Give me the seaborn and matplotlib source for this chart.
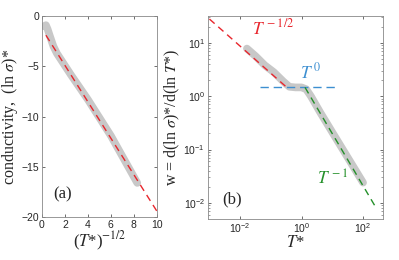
import matplotlib
matplotlib.use("Agg")
import matplotlib.pyplot as plt
import matplotlib.ticker as mticker
import numpy as np
import seaborn as sns

# panel (a): ln(sigma)* versus (T*)^-1/2
a_x = [0.2, 0.35, 0.5, 0.7, 1.0, 1.3, 1.7, 2.5, 4.0, 6.0, 8.3]
a_y = [-1.0, -0.9, -1.3, -2.0, -3.0, -3.7, -4.4, -5.8, -8.3, -11.9, -16.6]
a_fit_x = [0.35, 10.0]
a_fit_y = [-1.9, -19.4]

# panel (b): w versus T*
b_T = [0.0166, 0.032, 0.063, 0.126, 0.25, 0.4, 0.63, 1.0, 1.41, 2.0, 4.0, 10.0, 31.6, 100.0]
b_w = [7.8, 5.6, 3.8, 2.8, 1.9, 1.5, 1.46, 1.46, 1.35, 1.0, 0.5, 0.21, 0.071, 0.024]
fit_half_T = [0.001, 0.33]
fit_half_w = [27.9, 1.46]
fit_zero_T = [0.045, 17.0]
fit_zero_w = [1.46, 1.46]
fit_one_T = [1.29, 240.0]
fit_one_w = [1.46, 0.0089]

sns.set_style("ticks")
plt.rcParams["font.family"] = ["Liberation Sans", "DejaVu Sans"]
plt.rcParams["mathtext.fontset"] = "stix"

grey = "#c8c8c8"
red = "#e8262d"
blue = "#3d8fd1"
green = "#24902a"
serif = "Liberation Serif"

fig = plt.figure(figsize=(3.99, 2.6), dpi=100)
ax1 = fig.add_axes([0.105, 0.165, 0.288, 0.773])
ax2 = fig.add_axes([0.521, 0.158, 0.439, 0.780])

sns.lineplot(x=a_x, y=a_y, ax=ax1, color=grey, lw=5.5, solid_capstyle="round")
sns.lineplot(x=a_fit_x, y=a_fit_y, ax=ax1, color=red, lw=1.0, dashes=(5, 3.5))
ax1.set_xlim(0, 10)
ax1.set_ylim(-20, 0)
ax1.set_xticks([0, 2, 4, 6, 8, 10])
ax1.set_yticks([0, -5, -10, -15, -20])
ax1.set_xlabel(r"($T$*)$^{-1/2}$", fontfamily=serif, fontsize=12, labelpad=0)
ax1.set_ylabel(r"conductivity,  (ln $\sigma$)*", fontfamily=serif, fontsize=11.5, labelpad=1)
ax1.text(0.95, -18.1, "(a)", fontfamily=serif, fontsize=12)

sns.lineplot(x=b_T, y=b_w, ax=ax2, color=grey, lw=5.5, solid_capstyle="round")
sns.lineplot(x=fit_half_T, y=fit_half_w, ax=ax2, color=red, lw=1.0, dashes=(5, 3.5))
sns.lineplot(x=fit_zero_T, y=fit_zero_w, ax=ax2, color=blue, lw=1.0, dashes=(6, 3.5))
sns.lineplot(x=fit_one_T, y=fit_one_w, ax=ax2, color=green, lw=1.0, dashes=(5, 3.5))
ax2.set_xscale("log")
ax2.set_yscale("log")
ax2.set_xlim(10 ** -3.05, 10 ** 2.65)
ax2.set_ylim(10 ** -2.3, 10 ** 1.5)
ax2.set_xticks([1e-2, 1, 1e2])
ax2.set_yticks([1e-2, 1e-1, 1, 1e1])
fmt = mticker.FuncFormatter(lambda v, p: r"$\mathregular{10^{%d}}$" % round(np.log10(v)))
ax2.xaxis.set_major_formatter(fmt)
ax2.yaxis.set_major_formatter(fmt)
ax2.xaxis.set_minor_locator(mticker.NullLocator())
ax2.yaxis.set_minor_locator(mticker.LogLocator(base=10, subs=np.arange(2, 10) * 1.0))
ax2.yaxis.set_minor_formatter(mticker.NullFormatter())
ax2.set_xlabel(r"$T$*", fontfamily=serif, fontsize=12, labelpad=0)
ax2.set_ylabel(r"w = d(ln $\sigma$)*/d(ln $T$*)", fontfamily=serif, fontsize=11.5, labelpad=1)
ax2.text(0.08, 0.075, "(b)", transform=ax2.transAxes, fontfamily=serif, fontsize=12)
ax2.text(0.25, 0.91, r"$T^{\,-1/2}$", transform=ax2.transAxes, color=red, fontsize=12.5)
ax2.text(0.526, 0.695, r"$T^{\,0}$", transform=ax2.transAxes, color=blue, fontsize=12.5)
ax2.text(0.623, 0.167, r"$T^{\,-1}$", transform=ax2.transAxes, color=green, fontsize=12.5)

for ax in (ax1, ax2):
    ax.tick_params(direction="in", top=True, right=True, labelsize=7.5,
                   length=2.5, width=0.6, color="#555555", pad=2)
    ax.tick_params(which="minor", direction="in", right=True, length=1.2, width=0.5,
                   color="#777777")
    for s in ax.spines.values():
        s.set_color("#888888")
        s.set_linewidth(0.6)

fig.savefig("out.png", dpi=100)
